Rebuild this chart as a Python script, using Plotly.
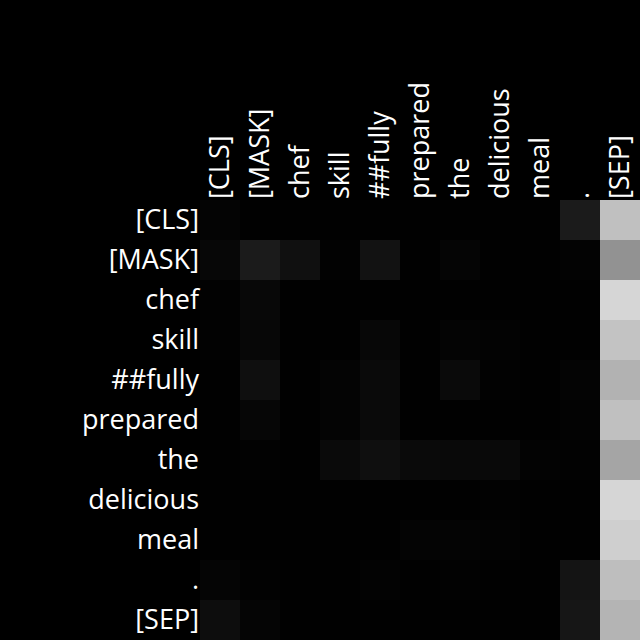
import plotly.graph_objects as go

tokens = ["[CLS]", "[MASK]", "chef", "skill", "##fully", "prepared", "the",
          "delicious", "meal", ".", "[SEP]"]

# attention weights (0..1), rows = query token, cols = key token
row_cls       = [0.016, 0.004, 0.004, 0.004, 0.004, 0.004, 0.004, 0.004, 0.004, 0.106, 0.753]
row_mask      = [0.027, 0.106, 0.063, 0.008, 0.071, 0.004, 0.020, 0.004, 0.004, 0.012, 0.573]
row_chef      = [0.008, 0.031, 0.004, 0.004, 0.004, 0.004, 0.004, 0.004, 0.004, 0.004, 0.839]
row_skill     = [0.008, 0.027, 0.004, 0.004, 0.027, 0.004, 0.016, 0.012, 0.004, 0.004, 0.765]
row_fully     = [0.004, 0.059, 0.004, 0.016, 0.039, 0.004, 0.039, 0.008, 0.004, 0.016, 0.698]
row_prepared  = [0.004, 0.024, 0.004, 0.016, 0.039, 0.004, 0.004, 0.004, 0.004, 0.012, 0.753]
row_the       = [0.004, 0.008, 0.004, 0.039, 0.059, 0.039, 0.035, 0.035, 0.012, 0.008, 0.647]
row_delicious = [0.004, 0.004, 0.004, 0.004, 0.004, 0.004, 0.004, 0.008, 0.004, 0.004, 0.839]
row_meal      = [0.004, 0.004, 0.004, 0.004, 0.004, 0.016, 0.016, 0.012, 0.004, 0.004, 0.812]
row_period    = [0.020, 0.008, 0.004, 0.004, 0.012, 0.004, 0.008, 0.004, 0.004, 0.078, 0.745]
row_sep       = [0.051, 0.020, 0.004, 0.004, 0.004, 0.004, 0.004, 0.004, 0.004, 0.086, 0.706]

z = [row_cls, row_mask, row_chef, row_skill, row_fully, row_prepared, row_the,
     row_delicious, row_meal, row_period, row_sep]

fig = go.Figure(go.Heatmap(
    z=z, x=list(range(len(tokens))), y=list(range(len(tokens))),
    colorscale=[[0, "black"], [1, "white"]], zmin=0, zmax=1,
    showscale=False, hoverinfo="skip",
))

fig.update_layout(
    width=640, height=640,
    margin=dict(l=200, r=0, t=200, b=0, pad=0),
    paper_bgcolor="black", plot_bgcolor="black",
    font=dict(family="Open Sans", size=27, color="white"),
    xaxis=dict(side="top", tickmode="array", tickvals=list(range(len(tokens))),
               ticktext=tokens, tickangle=-90, showgrid=False, zeroline=False,
               ticks="", ticklen=0, range=[-0.5, 10.5]),
    yaxis=dict(tickmode="array", tickvals=list(range(len(tokens))), ticktext=tokens,
               autorange="reversed", showgrid=False, zeroline=False, ticks="", ticklen=0),
)

fig.write_html("out.html")
